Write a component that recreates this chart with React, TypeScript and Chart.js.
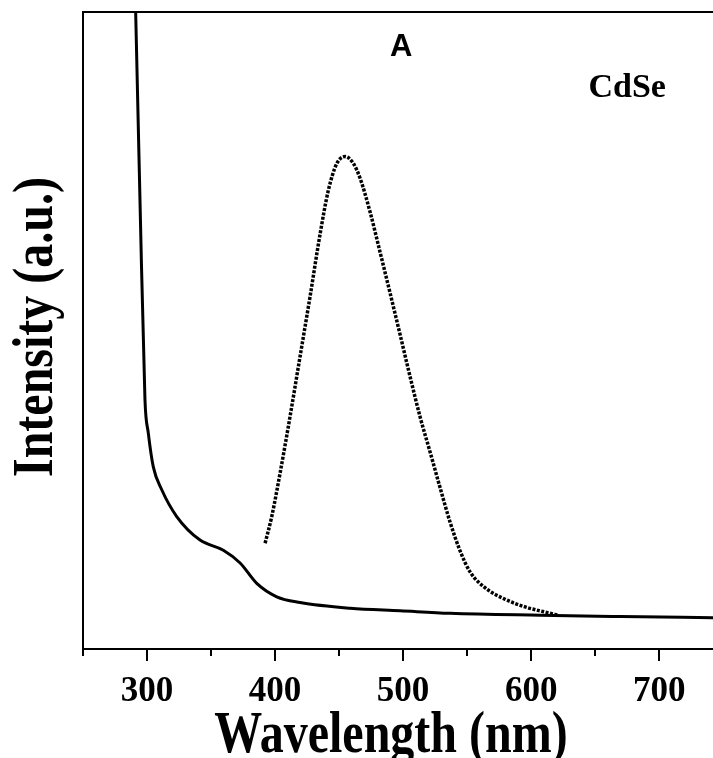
import { useEffect, useRef } from "react";
import { Chart, registerables } from "chart.js";

Chart.register(...registerables);

// Absorption spectrum (solid line)
const absWavelength = [290, 294.5, 298.4, 301.0, 304.9, 311.5, 323.2, 341.4, 359.6, 372.7, 385.7, 401.3, 419.5, 458.6, 497.7, 536.7, 607, 669.5, 742];
const absIntensity = [110, 70.5, 39.1, 33.9, 28.6, 25.0, 20.8, 17.1, 15.5, 13.5, 10.3, 8.2, 7.3, 6.4, 6.0, 5.6, 5.3, 5.1, 4.9];

// Photoluminescence spectrum (dotted line)
const plWavelength = [392.2, 397.4, 403.9, 411.7, 419.5, 427.3, 435.2, 441.6, 448.2, 454.7, 460.9, 466.4, 474.2, 482.0, 489.8, 497.7, 505.5, 513.3, 521.1, 528.9, 536.7, 544.5, 552.3, 564.1, 579.7, 595.3, 610.9, 621];
const plIntensity = [16.6, 20.8, 27.6, 36.5, 45.9, 55.3, 65.2, 72.0, 76.2, 77.3, 76.3, 73.9, 68.6, 62.3, 55.9, 49.3, 42.7, 36.4, 30.9, 25.3, 19.9, 15.4, 12.1, 9.6, 7.8, 6.6, 5.8, 5.3];

// Axis ticks
const majorTicks = [300, 400, 500, 600, 700];
const minorTicks = [250, 350, 450, 550, 650];

const xTitle = "Wavelength (nm)";
const yTitle = "Intensity (a.u.)";
const panelLabel = "A";
const sampleLabel = "CdSe";

const SERIF = '"Liberation Serif", "Times New Roman", serif';
const SANS = '"Liberation Sans", Arial, sans-serif';

const toPoints = (xs: number[], ys: number[]) => xs.map((x, i) => ({ x, y: ys[i] }));

const decorPlugin = {
  id: "decor",
  afterDraw(chart: any) {
    const { ctx, chartArea: a, scales } = chart;
    const xs = scales.x;
    const ys = scales.y;
    ctx.save();
    ctx.strokeStyle = "#000";
    ctx.fillStyle = "#000";
    ctx.lineWidth = 2;

    // top frame line
    ctx.beginPath();
    ctx.moveTo(a.left - 1, a.top);
    ctx.lineTo(a.right, a.top);
    ctx.stroke();

    // outward tick marks on the wavelength axis
    const drawTick = (v: number, len: number) => {
      const px = Math.round(xs.getPixelForValue(v));
      ctx.beginPath();
      ctx.moveTo(px, a.bottom);
      ctx.lineTo(px, a.bottom + len);
      ctx.stroke();
    };
    majorTicks.forEach((v) => drawTick(v, 12));
    minorTicks.forEach((v) => drawTick(v, 7));

    // axis titles
    ctx.font = `bold 48px ${SERIF}`;
    ctx.textAlign = "center";
    ctx.textBaseline = "alphabetic";
    ctx.save();
    ctx.translate(a.left + 308, a.bottom + 103);
    ctx.scale(1, 1.22);
    ctx.fillText(xTitle, 0, 0);
    ctx.restore();

    ctx.save();
    ctx.translate(52, a.top + 315);
    ctx.rotate(-Math.PI / 2);
    ctx.scale(1, 1.18);
    ctx.fillText(yTitle, 0, 0);
    ctx.restore();

    // in-plot labels
    ctx.textBaseline = "middle";
    ctx.font = `bold 31px ${SANS}`;
    ctx.fillText(panelLabel, xs.getPixelForValue(498.4), ys.getPixelForValue(94.5));
    ctx.font = `bold 34px ${SERIF}`;
    ctx.fillText(sampleLabel, xs.getPixelForValue(675), ys.getPixelForValue(88.1));
    ctx.restore();
  },
};

export default function App() {
  const canvasRef = useRef<HTMLCanvasElement | null>(null);

  useEffect(() => {
    if (!canvasRef.current) return;
    const chart = new Chart(canvasRef.current, {
      type: "line",
      data: {
        datasets: [
          {
            label: "Absorption",
            data: toPoints(absWavelength, absIntensity),
            borderColor: "#000",
            borderWidth: 3,
            pointRadius: 0,
            fill: false,
            cubicInterpolationMode: "monotone",
          },
          {
            label: "PL",
            data: toPoints(plWavelength, plIntensity),
            borderColor: "#000",
            borderWidth: 3.5,
            borderDash: [3, 1.5],
            pointRadius: 0,
            fill: false,
            cubicInterpolationMode: "monotone",
          },
        ],
      },
      plugins: [decorPlugin],
      options: {
        animation: false,
        responsive: false,
        devicePixelRatio: 1,
        layout: { padding: { top: 12, left: 0, right: 0, bottom: 0 } },
        plugins: {
          legend: { display: false },
          tooltip: { enabled: false },
        },
        scales: {
          x: {
            type: "linear",
            min: 250,
            max: 742,
            afterFit: (scale: any) => {
              scale.height = 109;
            },
            grid: { display: false, drawTicks: false },
            border: { display: true, color: "#000", width: 2 },
            ticks: {
              stepSize: 50,
              includeBounds: false,
              autoSkip: false,
              maxRotation: 0,
              padding: 22,
              color: "#000",
              font: { family: SERIF, size: 35, weight: "bold" },
              callback: (v: any) => (majorTicks.includes(Number(v)) ? String(v) : ""),
            },
          },
          y: {
            type: "linear",
            min: 0,
            max: 100,
            afterFit: (scale: any) => {
              scale.width = 83;
            },
            grid: { display: false, drawTicks: false },
            border: { display: true, color: "#000", width: 2 },
            ticks: { display: false },
          },
        },
      },
    });
    return () => chart.destroy();
  }, []);

  return (
    <div style={{ position: "fixed", left: 0, top: 0, width: 713, height: 758, background: "#fff" }}>
      <canvas ref={canvasRef} width={713} height={758} />
    </div>
  );
}
